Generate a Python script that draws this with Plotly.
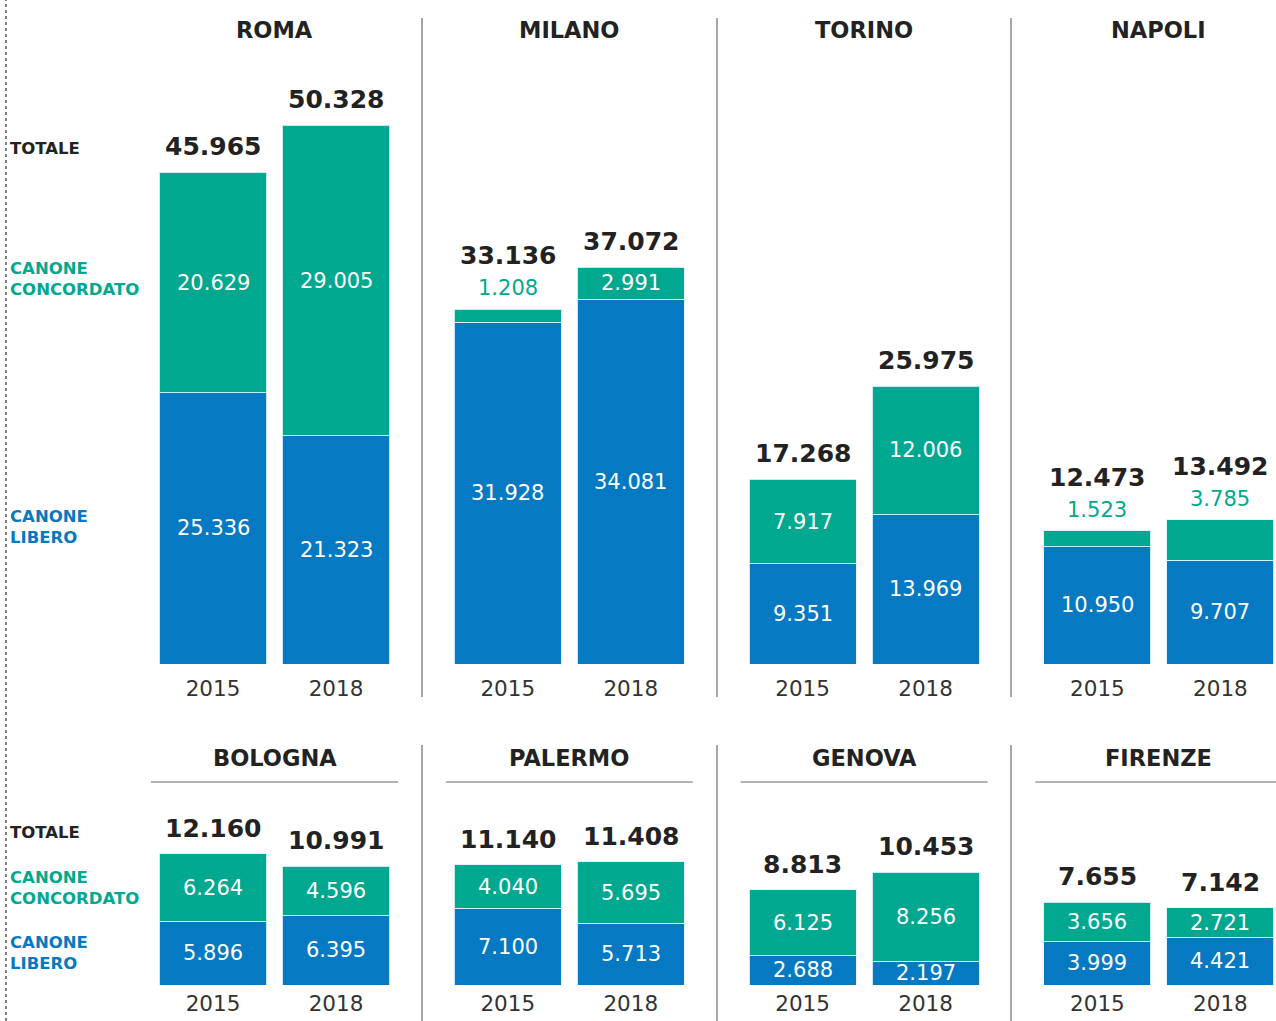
import plotly.graph_objects as go

# ---------------- data ----------------
CITIES = ["ROMA", "MILANO", "TORINO", "NAPOLI", "BOLOGNA", "PALERMO", "GENOVA", "FIRENZE"]
YEARS = ["2015", "2018"]
LIBERO_2015 = [25336, 31928, 9351, 10950, 5896, 7100, 2688, 3999]
LIBERO_2018 = [21323, 34081, 13969, 9707, 6395, 5713, 2197, 4421]
CONCORDATO_2015 = [20629, 1208, 7917, 1523, 6264, 4040, 6125, 3656]
CONCORDATO_2018 = [29005, 2991, 12006, 3785, 4596, 5695, 8256, 2721]
# concordato labels drawn above the bar (segment too thin in the original)
OUTSIDE_CONC = {("MILANO", "2015"), ("NAPOLI", "2015"), ("NAPOLI", "2018")}
SIDE_LABELS = ["TOTALE", "CANONE<br>CONCORDATO", "CANONE<br>LIBERO"]

# ---------------- style ----------------
W, H = 1276, 1021
TEAL = "#00a88f"
BLUE = "#0579c2"
DARK = "#222222"
FONT = "DejaVu Sans"


def fx(px):
    return px / W


def fy(py):
    return 1 - py / H


def fmt(v):
    return f"{v:,}".replace(",", ".")


ROWS = [
    dict(base=664, top=0, scale=0.0107, title_y=30, standoff=9),
    dict(base=985, top=790, scale=0.0108, title_y=758, standoff=3),
]
STEP = 123.0      # px between 2015 and 2018 bars
FIRST = 213.0     # px centre of first bar
PANEL = 294.8     # px between panels

fig = go.Figure()
annotations = []
shapes = []
layout_axes = {}

for idx, city in enumerate(CITIES):
    r, i = divmod(idx, 4)
    row = ROWS[r]
    k = idx + 1
    xa = "x" if k == 1 else f"x{k}"
    ya = "y" if k == 1 else f"y{k}"
    x0 = FIRST + PANEL * i
    left = x0 - 62
    right = min(x0 + STEP + 62, W)
    xr = [(left - x0) / STEP, (right - x0) / STEP]
    hpx = row["base"] - row["top"]
    layout_axes["xaxis" if k == 1 else f"xaxis{k}"] = dict(
        domain=[fx(left), fx(right)], range=xr, anchor=ya, automargin=False,
        tickvals=[0, 1], ticktext=YEARS, ticks="", showline=False,
        showgrid=False, zeroline=False, ticklabelstandoff=row["standoff"],
        tickfont=dict(family=FONT, size=21.5, color="#333333"), fixedrange=True,
    )
    layout_axes["yaxis" if k == 1 else f"yaxis{k}"] = dict(
        domain=[fy(row["base"]), fy(row["top"])], range=[0, hpx / row["scale"]],
        anchor=xa, visible=False, fixedrange=True, automargin=False,
    )
    lib = [LIBERO_2015[idx], LIBERO_2018[idx]]
    conc = [CONCORDATO_2015[idx], CONCORDATO_2018[idx]]
    fig.add_trace(go.Bar(x=[0, 1], y=lib, width=0.87, xaxis=xa, yaxis=ya,
                         marker=dict(color=BLUE, line=dict(color="rgba(225,242,255,0.9)", width=1)),
                         showlegend=False, hoverinfo="skip"))
    fig.add_trace(go.Bar(x=[0, 1], y=conc, width=0.87, xaxis=xa, yaxis=ya,
                         marker=dict(color=TEAL, line=dict(color="rgba(225,242,255,0.9)", width=1)),
                         showlegend=False, hoverinfo="skip"))
    for j, yr in enumerate(YEARS):
        tot = lib[j] + conc[j]
        annotations.append(dict(x=j, y=lib[j] / 2, xref=xa, yref=ya, text=fmt(lib[j]),
                                showarrow=False, font=dict(family=FONT, size=21, color="white")))
        outside = (city, yr) in OUTSIDE_CONC
        if outside:
            annotations.append(dict(x=j, y=tot, xref=xa, yref=ya, text=fmt(conc[j]),
                                    yanchor="bottom", yshift=7, showarrow=False,
                                    font=dict(family=FONT, size=21, color=TEAL)))
        else:
            annotations.append(dict(x=j, y=lib[j] + conc[j] / 2, xref=xa, yref=ya, text=fmt(conc[j]),
                                    showarrow=False, font=dict(family=FONT, size=21, color="white")))
        annotations.append(dict(x=j, y=tot, xref=xa, yref=ya, text="<b>" + fmt(tot) + "</b>",
                                yanchor="bottom", yshift=37 if outside else 9, showarrow=False,
                                font=dict(family=FONT, size=25, color=DARK)))
    # panel title
    annotations.append(dict(x=fx(x0 + STEP / 2), y=fy(row["title_y"]), xref="paper", yref="paper",
                            text="<b>" + city + "</b>", showarrow=False, xanchor="center",
                            yanchor="middle", font=dict(family=FONT, size=22.5, color=DARK)))
    if r == 1:
        shapes.append(dict(type="line", xref=f"{xa} domain", yref="paper", x0=0, x1=1,
                           y0=fy(782), y1=fy(782), line=dict(color="#9a9a9a", width=1.5)))

# vertical separators
for sx in [422, 717, 1011]:
    shapes.append(dict(type="line", xref="paper", yref="paper", x0=fx(sx), x1=fx(sx),
                       y0=fy(18), y1=fy(697), line=dict(color="#8a8a8a", width=1.5)))
    shapes.append(dict(type="line", xref="paper", yref="paper", x0=fx(sx), x1=fx(sx),
                       y0=fy(745), y1=fy(1021), line=dict(color="#8a8a8a", width=1.5)))
# dotted left rule
shapes.append(dict(type="line", xref="paper", yref="paper", x0=fx(6), x1=fx(6), y0=0, y1=1,
                   line=dict(color="#555555", width=1.5, dash="dot")))

# side labels
side_pos = [[148, 279, 527], [832, 888, 953]]
side_col = [DARK, TEAL, BLUE]
for rpos in side_pos:
    for lab, py, col in zip(SIDE_LABELS, rpos, side_col):
        annotations.append(dict(x=fx(8), y=fy(py), xref="paper", yref="paper", text="<b>" + lab + "</b>",
                                xanchor="left", yanchor="middle", align="left", showarrow=False,
                                font=dict(family=FONT, size=16.5, color=col)))

fig.update_layout(
    width=W, height=H, margin=dict(l=0, r=0, t=0, b=0, autoexpand=False),
    paper_bgcolor="white", plot_bgcolor="white", barmode="stack",
    annotations=annotations, shapes=shapes, **layout_axes,
)
fig.write_html("out.html")
